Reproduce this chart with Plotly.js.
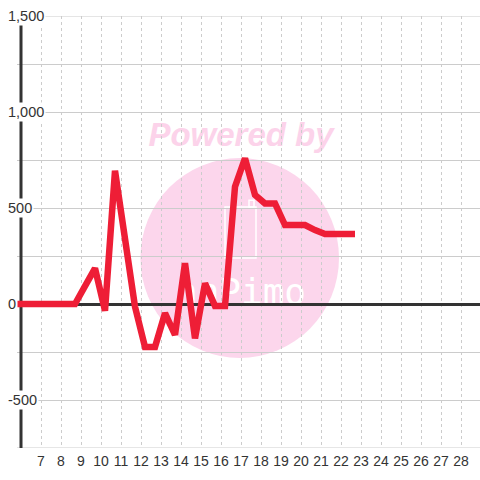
<!DOCTYPE html>
<html>
<head>
<meta charset="utf-8">
<script src="https://cdn.plot.ly/plotly-3.0.1.min.js"></script>
<style>html,body{margin:0;padding:0;background:#fff;}#chart{width:480px;height:480px;}</style>
</head>
<body>
<div id="chart"></div>
<script>
// Data
var xValues = [5.7, 6.2, 6.7, 7.2, 7.7, 8.2, 8.7, 9.2, 9.7, 10.2, 10.7, 11.2, 11.7, 12.2, 12.7, 13.2, 13.7, 14.2, 14.7, 15.2, 15.7, 16.2, 16.7, 17.2, 17.7, 18.2, 18.7, 19.2, 19.7, 20.2, 20.7, 21.2, 21.7, 22.2, 22.7];
var yValues = [0, 0, 0, 0, 0, 0, 0, 93, 186, -35, 694, 340, -14, -224, -224, -48, -161, 212, -179, 108, -10, -10, 611, 759, 568, 524, 524, 411, 411, 411, 385, 365, 365, 365, 365];
var xTickVals = [7, 8, 9, 10, 11, 12, 13, 14, 15, 16, 17, 18, 19, 20, 21, 22, 23, 24, 25, 26, 27, 28];
var xTickText = ['7', '8', '9', '10', '11', '12', '13', '14', '15', '16', '17', '18', '19', '20', '21', '22', '23', '24', '25', '26', '27', '28'];
var yGridVals = [-750, -500, -250, 0, 250, 500, 750, 1000, 1250, 1500];
var yLabelVals = [-500, 0, 500, 1000, 1500];
var yLabelText = ['-500', '0', '500', '1,000', '1,500'];

var trace = {
  x: xValues,
  y: yValues,
  type: 'scatter',
  mode: 'lines',
  line: {color: '#ee1e36', width: 6.5},
  hoverinfo: 'skip'
};

var annotations = yLabelVals.map(function (v, i) {
  return {
    xref: 'paper', yref: 'y', x: -0.024, y: v,
    xanchor: 'left', yanchor: 'middle',
    text: yLabelText[i], showarrow: false,
    font: {family: 'Liberation Sans, Arial, sans-serif', size: 14.5, color: '#333333'},
    bgcolor: '#ffffff', borderpad: 1
  };
});

var shapes = [
  // watermark circle
  {type: 'circle', layer: 'below', xref: 'x', yref: 'y',
   x0: 11.97, x1: 21.9, y0: -281, y1: 760,
   fillcolor: '#fcd6ec', line: {width: 0}},
  // watermark "Powered by"
  {type: 'rect', layer: 'below', xref: 'x', yref: 'y',
   x0: 12.0, x1: 22.0, y0: 760, y1: 1040,
   fillcolor: 'rgba(0,0,0,0)', line: {width: 0},
   label: {text: 'Powered by', textposition: 'middle center',
     font: {family: 'Liberation Sans, Arial, sans-serif', size: 33, color: '#fcd3ea', weight: 'bold', style: 'italic'}}},
  // watermark logo box
  {type: 'rect', layer: 'below', xref: 'x', yref: 'y',
   x0: 16.2, x1: 17.75, y0: 240, y1: 505,
   fillcolor: 'rgba(0,0,0,0)', line: {width: 1.5, color: '#ffffff'}},
  {type: 'rect', layer: 'below', xref: 'x', yref: 'y',
   x0: 17.4, x1: 17.65, y0: 505, y1: 540,
   fillcolor: 'rgba(0,0,0,0)', line: {width: 1.5, color: '#ffffff'}},
  // watermark logo text
  {type: 'rect', layer: 'below', xref: 'x', yref: 'y',
   x0: 13.6, x1: 20.4, y0: 0, y1: 160,
   fillcolor: 'rgba(0,0,0,0)', line: {width: 0},
   label: {text: 'nnPimo', textposition: 'middle center',
     font: {family: 'DejaVu Sans Mono, monospace', size: 36, color: '#ffffff'}}},
  // edge gridlines
  {type: 'line', layer: 'between', xref: 'paper', yref: 'y',
   x0: 0, x1: 1, y0: -750, y1: -750, line: {color: '#cccccc', width: 1}},
  {type: 'line', layer: 'between', xref: 'paper', yref: 'y',
   x0: 0, x1: 1, y0: 1500, y1: 1500, line: {color: '#cccccc', width: 1}},
  // y axis line
  {type: 'line', layer: 'between', xref: 'x', yref: 'y',
   x0: 6, x1: 6, y0: -750, y1: 1500,
   line: {color: '#333333', width: 3}}
];

var layout = {
  width: 480, height: 480,
  margin: {l: 17, r: 0, t: 16, b: 32, pad: 0},
  paper_bgcolor: '#ffffff', plot_bgcolor: '#ffffff',
  showlegend: false,
  xaxis: {
    range: [5.8, 28.95], tickmode: 'array', tickvals: xTickVals, ticktext: xTickText,
    showgrid: true, gridcolor: '#cccccc', gridwidth: 1, griddash: 'dot',
    zeroline: false, showline: false, ticks: '', ticklabelstandoff: 3,
    tickfont: {family: 'Liberation Sans, Arial, sans-serif', size: 14, color: '#333333'},
    fixedrange: true
  },
  yaxis: {
    range: [-750, 1500], tickmode: 'array', tickvals: yGridVals,
    showticklabels: false, showgrid: true, gridcolor: '#cccccc', gridwidth: 1,
    zeroline: true, zerolinecolor: '#333333', zerolinewidth: 3,
    showline: false, ticks: '', fixedrange: true
  },
  shapes: shapes,
  annotations: annotations
};

Plotly.newPlot('chart', [trace], layout, {displayModeBar: false, staticPlot: true});
</script>
</body>
</html>
